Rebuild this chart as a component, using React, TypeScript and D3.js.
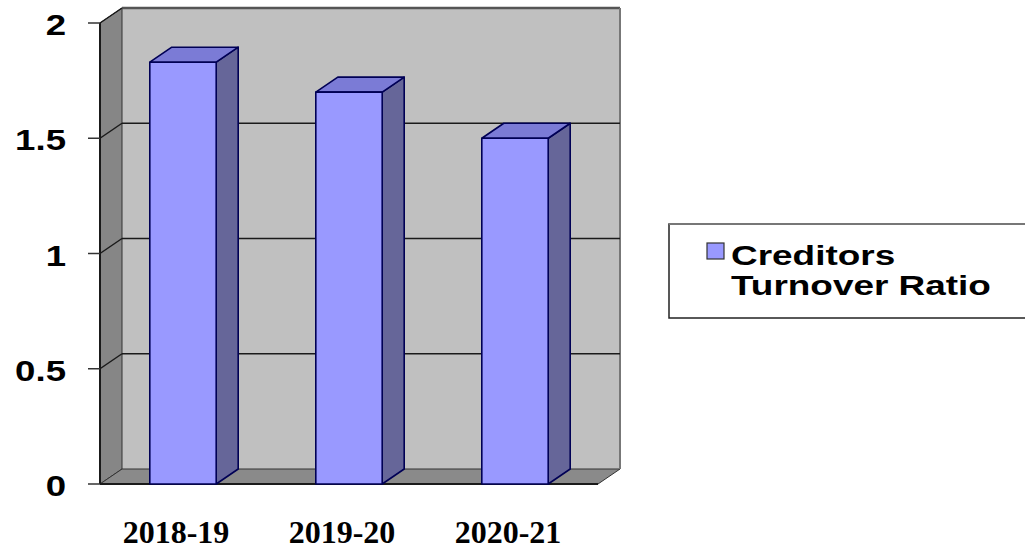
import React from "react";
import * as d3 from "d3";

const categories = ["2018-19", "2019-20", "2020-21"];
const values = [1.83, 1.70, 1.50];
const yTicks = [0, 0.5, 1, 1.5, 2];
const yTickLabels = ["0", "0.5", "1", "1.5", "2"];
const seriesName = ["Creditors", "Turnover Ratio"];

const W = 1025;
const H = 551;
const DX = 22;
const DY = -15;

export default function App() {
  const x = d3.scaleBand<string>().domain(categories).range([100, 598]).paddingInner(0.6).paddingOuter(0.3);
  const y = d3.scaleLinear().domain([0, 2]).range([484, 23]);
  const x0 = 100, x1 = 598;
  const yTop = y(2), yBot = y(0);
  const stroke = "#1a1a1a";
  const barStroke = "#000055";
  const SX = 1.22;

  const poly = (pts: [number, number][]) => pts.map((p) => p.join(",")).join(" ");

  return (
    <svg width={W} height={H} style={{ position: "absolute", left: 0, top: 0, background: "#fff" }}>
      {/* back wall */}
      <polygon points={poly([[x0 + DX, yTop + DY], [x1 + DX, yTop + DY], [x1 + DX, yBot + DY], [x0 + DX, yBot + DY]])} fill="#c0c0c0" />
      {/* left wall */}
      <polygon points={poly([[x0, yTop], [x0 + DX, yTop + DY], [x0 + DX, yBot + DY], [x0, yBot]])} fill="#868686" stroke="#333" strokeWidth={1} />
      {/* floor */}
      <polygon points={poly([[x0, yBot], [x0 + DX, yBot + DY], [x1 + DX, yBot + DY], [x1, yBot]])} fill="#8a8a8a" stroke="#333" strokeWidth={1} />
      {/* back wall border */}
      <line x1={x0 + DX} y1={yTop + DY} x2={x1 + DX} y2={yTop + DY} stroke="#555" strokeWidth={2.5} />
      <line x1={x1 + DX} y1={yTop + DY} x2={x1 + DX} y2={yBot + DY} stroke="#777" strokeWidth={2} />
      {/* gridlines */}
      {yTicks.slice(1, -1).map((t) => (
        <g key={t}>
          <line x1={x0 + DX} y1={y(t) + DY} x2={x1 + DX} y2={y(t) + DY} stroke={stroke} strokeWidth={1.5} />
          <line x1={x0} y1={y(t)} x2={x0 + DX} y2={y(t) + DY} stroke={stroke} strokeWidth={1.5} />
        </g>
      ))}
      <line x1={x0} y1={yTop} x2={x0 + DX} y2={yTop + DY} stroke={stroke} strokeWidth={1.5} />
      {/* axis line */}
      <line x1={x0} y1={yTop} x2={x0} y2={yBot} stroke={stroke} strokeWidth={2} />
      <line x1={x0} y1={yBot} x2={x1} y2={yBot} stroke={stroke} strokeWidth={2} />
      {/* ticks and labels */}
      {yTicks.map((t, i) => (
        <g key={"t" + t}>
          <line x1={x0 - 12} y1={y(t)} x2={x0} y2={y(t)} stroke="#333" strokeWidth={1.5} />
          <text
            transform={`translate(66,${y(t) + 12}) scale(${SX},1)`}
            textAnchor="end"
            fontFamily="Liberation Sans, Arial, sans-serif"
            fontWeight="bold"
            fontSize={30}
            fill="#000"
          >
            {yTickLabels[i]}
          </text>
        </g>
      ))}
      {/* bars */}
      {categories.map((c, i) => {
        const bx = x(c)!;
        const bw = x.bandwidth();
        const ty = y(values[i]);
        return (
          <g key={c} strokeLinejoin="round">
            <polygon points={poly([[bx + bw, ty], [bx + bw + DX, ty + DY], [bx + bw + DX, yBot + DY], [bx + bw, yBot]])} fill="#666699" stroke={barStroke} strokeWidth={1.6} />
            <polygon points={poly([[bx, ty], [bx + DX, ty + DY], [bx + bw + DX, ty + DY], [bx + bw, ty]])} fill="#7b7bd6" stroke={barStroke} strokeWidth={1.6} />
            <rect x={bx} y={ty} width={bw} height={yBot - ty} fill="#9999ff" stroke={barStroke} strokeWidth={1.6} />
          </g>
        );
      })}
      {/* category labels */}
      {categories.map((c) => (
        <text
          key={"l" + c}
          x={x(c)! + x.bandwidth() / 2 - 7}
          y={543}
          textAnchor="middle"
          fontFamily="Liberation Serif, Times New Roman, serif"
          fontWeight="bold"
          fontSize={32}
          fill="#000"
        >
          {c}
        </text>
      ))}
      {/* legend */}
      <rect x={669} y={224} width={420} height={94} fill="#fff" stroke="#222" strokeWidth={1.5} />
      <line x1={669} y1={224} x2={1025} y2={224} stroke="#777" strokeWidth={2} />
      <rect x={707} y={243} width={17} height={16} fill="#9999ff" stroke="#333" strokeWidth={1.2} />
      {seriesName.map((s, i) => (
        <text
          key={s}
          transform={`translate(731,${265 + i * 30}) scale(1.32,1)`}
          fontFamily="Liberation Sans, Arial, sans-serif"
          fontWeight="bold"
          fontSize={28}
          fill="#000"
        >
          {s}
        </text>
      ))}
    </svg>
  );
}
